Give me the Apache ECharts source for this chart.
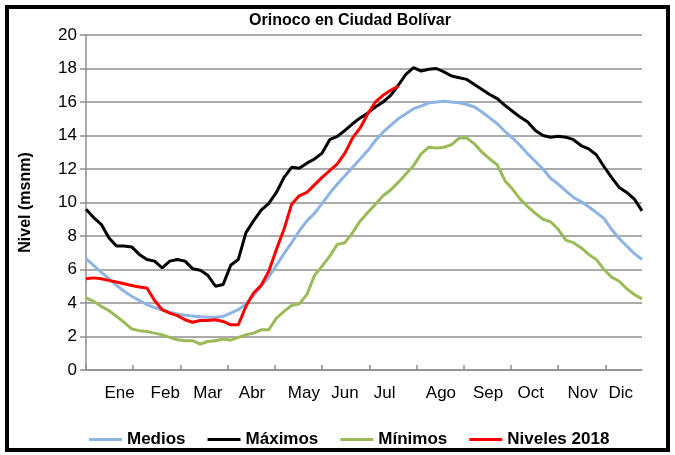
<!DOCTYPE html>
<html>
<head>
<meta charset="utf-8">
<script src="https://cdn.jsdelivr.net/npm/echarts@6/dist/echarts.min.js"></script>
<style>
  html, body { margin: 0; padding: 0; background: #fff; }
  #chart { width: 675px; height: 455px; }
</style>
</head>
<body>
<div id="chart"></div>
<script>
// dia del año (cada 5 dias)
var days = [0, 5, 10, 15, 20, 25, 30, 35, 40, 45, 50, 55, 60, 65, 70, 75, 80, 85, 90, 95,
  100, 105, 110, 115, 120, 125, 130, 135, 140, 145, 150, 155, 160, 165, 170, 175, 180, 185, 190, 195,
  200, 205, 210, 215, 220, 225, 230, 235, 240, 245, 250, 255, 260, 265, 270, 275, 280, 285, 290, 295,
  300, 305, 310, 315, 320, 325, 330, 335, 340, 345, 350, 355, 360, 365];

var medios = [6.65, 6.25, 5.85, 5.45, 5.05, 4.7, 4.4, 4.15, 3.9, 3.72, 3.58, 3.45, 3.35, 3.27, 3.22, 3.18, 3.15, 3.15, 3.2, 3.4,
  3.6, 3.95, 4.45, 5.0, 5.55, 6.25, 6.95, 7.6, 8.3, 8.9, 9.35, 9.95, 10.55, 11.1, 11.6, 12.1, 12.6, 13.1, 13.7, 14.2,
  14.6, 15.0, 15.3, 15.6, 15.75, 15.95, 16.0, 16.05, 16.0, 15.95, 15.85, 15.7, 15.4, 15.05, 14.7, 14.25, 13.85, 13.4, 12.9, 12.45,
  12.0, 11.45, 11.1, 10.7, 10.3, 10.05, 9.75, 9.4, 9.05, 8.4, 7.85, 7.4, 6.95, 6.6];

var maximos = [9.6, 9.1, 8.7, 7.9, 7.4, 7.4, 7.35, 6.9, 6.6, 6.5, 6.1, 6.5, 6.6, 6.5, 6.05, 5.95, 5.65, 5.0, 5.1, 6.25,
  6.6, 8.2, 8.9, 9.55, 9.95, 10.6, 11.5, 12.1, 12.05, 12.35, 12.6, 12.95, 13.75, 13.95, 14.3, 14.7, 15.05, 15.35, 15.7, 16.0,
  16.4, 17.0, 17.65, 18.05, 17.85, 17.95, 18.0, 17.8, 17.55, 17.45, 17.35, 17.05, 16.75, 16.45, 16.2, 15.8, 15.45, 15.1, 14.8, 14.3,
  14.0, 13.9, 13.95, 13.9, 13.75, 13.4, 13.2, 12.85, 12.15, 11.5, 10.9, 10.6, 10.2, 9.5];

var minimos = [4.3, 4.1, 3.8, 3.55, 3.2, 2.85, 2.45, 2.35, 2.3, 2.2, 2.1, 1.95, 1.8, 1.75, 1.75, 1.55, 1.7, 1.75, 1.85, 1.78,
  1.95, 2.1, 2.2, 2.4, 2.4, 3.1, 3.5, 3.85, 3.95, 4.5, 5.65, 6.2, 6.8, 7.5, 7.6, 8.2, 8.9, 9.4, 9.9, 10.4,
  10.75, 11.2, 11.7, 12.2, 12.9, 13.3, 13.25, 13.3, 13.45, 13.85, 13.85, 13.5, 13.0, 12.6, 12.25, 11.3, 10.8, 10.2, 9.75, 9.35,
  9.0, 8.85, 8.4, 7.75, 7.6, 7.3, 6.9, 6.6, 6.0, 5.55, 5.3, 4.85, 4.5, 4.25];

// niveles 2018, hasta mediados de julio
var niveles2018 = [5.45, 5.5, 5.45, 5.35, 5.25, 5.15, 5.05, 4.95, 4.9, 4.15, 3.6, 3.4, 3.25, 3.0, 2.85, 2.95, 2.95, 3.0, 2.9, 2.7,
  2.7, 3.8, 4.6, 5.05, 5.9, 7.2, 8.4, 9.9, 10.4, 10.6, 11.05, 11.5, 11.9, 12.3, 12.95, 13.85, 14.45, 15.3, 16.0, 16.4,
  16.7, 16.95];

var meses = ['Ene', 'Feb', 'Mar', 'Abr', 'May', 'Jun', 'Jul', 'Ago', 'Sep', 'Oct', 'Nov', 'Dic'];
var mesDias = [22, 52, 80, 109, 143, 170, 196, 233, 264, 292, 326, 351];   // donde va cada etiqueta
var tickDias = [0, 31, 62, 93, 124, 155, 186, 217, 248, 279, 310, 341];

function pares(vals) {
  return vals.map(function (v, i) { return [days[i], v]; });
}

var fuente = 'Liberation Sans, Arial, sans-serif';
var gris = '#8f8f8f';

var chart = echarts.init(document.getElementById('chart'));

var option = {
  backgroundColor: '#fff',
  animation: false,
  title: {
    text: 'Orinoco en Ciudad Bolívar',
    left: 345,
    textAlign: 'center',
    top: 8,
    textStyle: { fontFamily: fuente, fontSize: 16, fontWeight: 'bold', color: '#000' }
  },
  legend: {
    left: 84,
    top: 426,
    icon: 'rect',
    itemWidth: 33,
    itemHeight: 3,
    itemGap: 22,
    textStyle: { fontFamily: fuente, fontSize: 17, fontWeight: 'bold', color: '#000' },
    data: ['Medios', 'Máximos', 'Mínimos', 'Niveles 2018']
  },
  grid: { left: 86, right: 33, top: 35, bottom: 85 },
  xAxis: {
    type: 'value',
    min: 0,
    max: 365,
    axisLine: { lineStyle: { color: gris, width: 1.5 } },
    axisTick: { inside: true, length: 5, customValues: tickDias, lineStyle: { color: gris, width: 1.5 } },
    axisLabel: {
      customValues: mesDias,
      margin: 15,
      fontFamily: fuente,
      fontSize: 17,
      color: '#000',
      formatter: function (v) { return meses[mesDias.indexOf(v)]; }
    },
    splitLine: { show: false }
  },
  yAxis: {
    type: 'value',
    min: 0,
    max: 20,
    interval: 2,
    name: 'Nivel (msnm)',
    nameLocation: 'middle',
    nameRotate: 90,
    nameGap: 52,
    nameTextStyle: { fontFamily: fuente, fontSize: 16, fontWeight: 'bold', color: '#000' },
    axisLine: { show: true, lineStyle: { color: gris, width: 1.5 } },
    axisTick: { show: true, length: 6, lineStyle: { color: gris, width: 1.5 } },
    axisLabel: { margin: 9, fontFamily: fuente, fontSize: 17, color: '#000' },
    splitLine: { lineStyle: { color: gris, width: 1.5 } }
  },
  series: [
    { name: 'Medios', type: 'line', symbol: 'none', data: pares(medios),
      lineStyle: { color: '#8db4e2', width: 3 }, itemStyle: { color: '#8db4e2' } },
    { name: 'Máximos', type: 'line', symbol: 'none', data: pares(maximos),
      lineStyle: { color: '#000000', width: 3 }, itemStyle: { color: '#000000' } },
    { name: 'Mínimos', type: 'line', symbol: 'none', data: pares(minimos),
      lineStyle: { color: '#9bbb59', width: 3 }, itemStyle: { color: '#9bbb59' } },
    { name: 'Niveles 2018', type: 'line', symbol: 'none', data: pares(niveles2018),
      lineStyle: { color: '#ff0000', width: 3 }, itemStyle: { color: '#ff0000' } }
  ],
  graphic: [{
    type: 'rect',
    shape: { x: 7, y: 7, width: 661, height: 443 },
    style: { fill: null, stroke: '#000', lineWidth: 4 },
    silent: true
  }]
};

chart.setOption(option);
</script>
</body>
</html>
